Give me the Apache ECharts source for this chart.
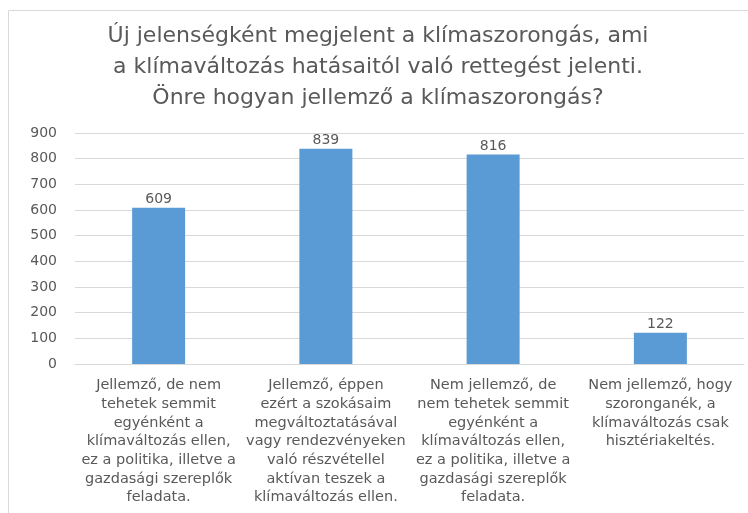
<!DOCTYPE html>
<html>
<head>
<meta charset="utf-8">
<script src="https://cdn.jsdelivr.net/npm/echarts@6/dist/echarts.min.js"></script>
<style>
  html, body { margin: 0; padding: 0; background: #ffffff; }
  #chart { width: 748px; height: 513px; }
</style>
</head>
<body>
<div id="chart"></div>
<script>
// Survey question (three title lines)
const titleLines = [
  'Új jelenségként megjelent a klímaszorongás, ami',
  'a klímaváltozás hatásaitól való rettegést jelenti.',
  'Önre hogyan jellemző a klímaszorongás?'
];

// Answer options, wrapped the way they are printed under the axis
const categories = [
  'Jellemző, de nem\ntehetek semmit\negyénként a\nklímaváltozás ellen,\nez a politika, illetve a\ngazdasági szereplők\nfeladata.',
  'Jellemző, éppen\nezért a szokásaim\nmegváltoztatásával\nvagy rendezvényeken\nvaló részvétellel\naktívan teszek a\nklímaváltozás ellen.',
  'Nem jellemző, de\nnem tehetek semmit\negyénként a\nklímaváltozás ellen,\nez a politika, illetve a\ngazdasági szereplők\nfeladata.',
  'Nem jellemző, hogy\nszoronganék, a\nklímaváltozás csak\nhisztériakeltés.'
];

// Number of respondents per answer
const values = [609, 839, 816, 122];

// Value axis range
const yMin = 0;
const yMax = 900;
const yStep = 100;

const FONT = '"DejaVu Sans", "Open Sans", sans-serif';
const TEXT = '#595959';
const GRID = '#d9d9d9';

const chart = echarts.init(document.getElementById('chart'), null, { renderer: 'canvas' });

chart.setOption({
  backgroundColor: '#ffffff',
  animation: false,
  graphic: [{
    type: 'rect',
    shape: { x: 8.5, y: 10.5, width: 800, height: 600 },
    style: { fill: 'none', stroke: GRID, lineWidth: 1 },
    silent: true
  }],
  title: {
    text: titleLines.join('\n'),
    left: 378,
    textAlign: 'center',
    top: 21,
    padding: 0,
    textStyle: {
      fontFamily: FONT,
      fontSize: 22,
      fontWeight: 'normal',
      color: TEXT,
      lineHeight: 31
    }
  },
  grid: {
    left: 75,
    right: 4,
    top: 133,
    bottom: 149,
    containLabel: false
  },
  xAxis: {
    type: 'category',
    data: categories,
    axisLine: { show: true, lineStyle: { color: GRID, width: 1 } },
    axisTick: { show: false },
    axisLabel: {
      interval: 0,
      margin: 12,
      fontFamily: FONT,
      fontSize: 14.5,
      lineHeight: 18.7,
      color: TEXT,
      align: 'center'
    }
  },
  yAxis: {
    type: 'value',
    min: yMin,
    max: yMax,
    interval: yStep,
    axisLine: { show: false },
    axisTick: { show: false },
    splitLine: { lineStyle: { color: GRID, width: 1 } },
    axisLabel: {
      margin: 18,
      fontFamily: FONT,
      fontSize: 14,
      color: TEXT
    }
  },
  series: [{
    type: 'bar',
    data: values,
    barWidth: 53,
    itemStyle: { color: '#5b9bd5' },
    label: {
      show: true,
      position: 'top',
      distance: 1,
      fontFamily: FONT,
      fontSize: 14,
      color: TEXT
    }
  }]
});
</script>
</body>
</html>
